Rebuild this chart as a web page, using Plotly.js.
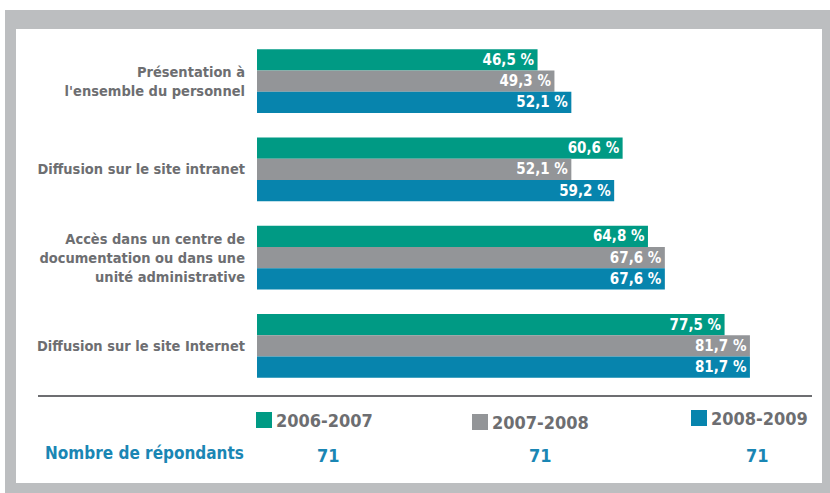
<!DOCTYPE html>
<html>
<head>
<meta charset="utf-8">
<script src="https://cdn.plot.ly/plotly-3.0.1.min.js"></script>
<style>
  html, body { margin: 0; padding: 0; background: #fff; }
  #plot { width: 830px; height: 493px; }
</style>
</head>
<body>
<div id="plot"></div>
<script>
var categories = [
  "Présentation à<br>l'ensemble du personnel",
  'Diffusion sur le site intranet',
  'Accès dans un centre de<br>documentation ou dans une<br>unité administrative',
  'Diffusion sur le site Internet'
];
var years = ['2006-2007', '2007-2008', '2008-2009'];
var v2006 = [46.5, 60.6, 64.8, 77.5];
var v2007 = [49.3, 52.1, 67.6, 81.7];
var v2008 = [52.1, 59.2, 67.6, 81.7];
var respondents = [71, 71, 71];
var colors = ['#009a84', '#939598', '#0784ad'];

var W = 830, H = 493;
var mL = 257, mR = 30, mT = 37, mB = 103;
var font = 'Liberation Sans Narrow, DejaVu Sans Condensed, Arial Narrow, sans-serif';

// pixel -> paper helpers for the decorations
function px(x) { return (x - mL) / (W - mL - mR); }
function py(y) { return (H - mB - y) / (H - mT - mB); }

function fmt(v) { return v.toFixed(1).replace('.', ',') + ' %'; }

var series = [v2006, v2007, v2008];
var data = series.map(function (vals, i) {
  return {
    type: 'bar',
    orientation: 'h',
    name: years[i],
    y: categories,
    x: vals,
    text: vals.map(fmt),
    textposition: 'inside',
    insidetextanchor: 'end',
    constraintext: 'none',
    textfont: {color: '#fff', size: 15, family: font, weight: 'bold'},
    marker: {color: colors[i]},
    hoverinfo: 'none'
  };
});

var shapes = [
  {type: 'rect', xref: 'paper', yref: 'paper', layer: 'below',
   x0: px(5), x1: px(840), y0: py(10), y1: py(500), fillcolor: '#bcbec0', line: {width: 0}},
  {type: 'rect', xref: 'paper', yref: 'paper', layer: 'below',
   x0: px(16), x1: px(822), y0: py(29), y1: py(483), fillcolor: '#ffffff', line: {width: 0}},
  {type: 'line', xref: 'paper', yref: 'paper',
   x0: px(38), x1: px(812), y0: py(396), y1: py(396), line: {color: '#6d6e71', width: 2}}
];

var annotations = [];
var legX = [256, 472, 691];
var legY = [420, 422, 418];
years.forEach(function (yr, i) {
  shapes.push({type: 'rect', xref: 'paper', yref: 'paper',
    x0: px(legX[i]), x1: px(legX[i] + 16), y0: py(legY[i] - 8), y1: py(legY[i] + 8),
    fillcolor: colors[i], line: {width: 0}});
  annotations.push({xref: 'paper', yref: 'paper', x: px(legX[i] + 18), y: py(legY[i]),
    xanchor: 'left', yanchor: 'middle', showarrow: false, text: yr,
    font: {family: font, size: 18, color: '#6d6e71', weight: 'bold'}});
});

annotations.push({xref: 'paper', yref: 'paper', x: px(246), y: py(453),
  xanchor: 'right', yanchor: 'middle', showarrow: false, text: 'Nombre de répondants',
  font: {family: font, size: 17, color: '#1a86b4', weight: 'bold'}});

var numX = [328, 540, 757];
respondents.forEach(function (n, i) {
  annotations.push({xref: 'paper', yref: 'paper', x: px(numX[i]), y: py(455),
    xanchor: 'center', yanchor: 'middle', showarrow: false, text: String(n),
    font: {family: font, size: 18, color: '#1a86b4', weight: 'bold'}});
});

var layout = {
  width: W, height: H,
  margin: {l: mL, r: mR, t: mT, b: mB, pad: 0},
  paper_bgcolor: '#ffffff',
  plot_bgcolor: 'rgba(0,0,0,0)',
  barmode: 'group',
  bargap: 0.277,
  bargroupgap: 0,
  showlegend: false,
  xaxis: {range: [0, 90], visible: false, fixedrange: true},
  yaxis: {
    type: 'category',
    range: [3.5, -0.5],
    showgrid: false, zeroline: false, showline: false,
    ticks: '', ticklabelstandoff: 11,
    tickfont: {family: font, size: 14.5, color: '#6d6e71', weight: 'bold'},
    fixedrange: true
  },
  shapes: shapes,
  annotations: annotations
};

Plotly.newPlot('plot', data, layout, {displayModeBar: false, staticPlot: true});
</script>
</body>
</html>
